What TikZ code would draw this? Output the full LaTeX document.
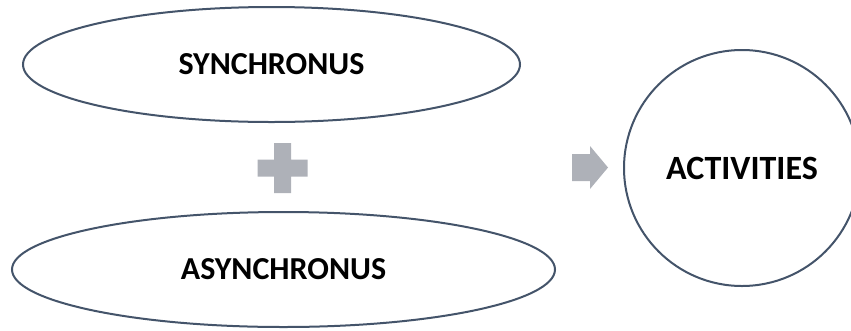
\documentclass[tikz,border=0pt]{standalone}
\usepackage{fontspec}
\setmainfont{Carlito}
\usetikzlibrary{shapes.geometric}
\definecolor{outline}{HTML}{44546A}
\definecolor{markgray}{RGB}{174,177,184}
\tikzset{
  oval/.style={ellipse, draw=outline, line width=2pt, fill=white, inner sep=0pt,
    font=\fontsize{32}{38}\selectfont\bfseries},
  roundbox/.style={circle, draw=outline, line width=2pt, fill=white, inner sep=0pt,
    minimum size=236pt, font=\fontsize{34}{40}\selectfont\bfseries},
  graysign/.style={fill=markgray, draw=none}
}
\begin{document}
\begin{tikzpicture}[x=1pt, y=-1pt]
  \useasboundingbox (0,0) rectangle (851,330);
  \clip (0,0) rectangle (851,330);
  % the two delivery modes
  \node[oval, minimum width=497pt, minimum height=115pt] (sync) at (271.5,64.5) {SYNCHRONUS};
  \node[oval, minimum width=543pt, minimum height=115pt] (async) at (283.5,269.5) {ASYNCHRONUS};
  % plus sign between them
  \fill[graysign] (274,143) -- (291,143) -- (291,159.5) -- (307.5,159.5) -- (307.5,176.5)
    -- (291,176.5) -- (291,193) -- (274,193) -- (274,176.5) -- (257.5,176.5)
    -- (257.5,159.5) -- (274,159.5) -- cycle;
  % arrow towards the result
  \fill[graysign] (572,154) -- (590,154) -- (590,146) -- (608,167.5) -- (590,189)
    -- (590,181) -- (572,181) -- cycle;
  % result
  \node[roundbox] (act) at (742,168) {ACTIVITIES};
\end{tikzpicture}
\end{document}
